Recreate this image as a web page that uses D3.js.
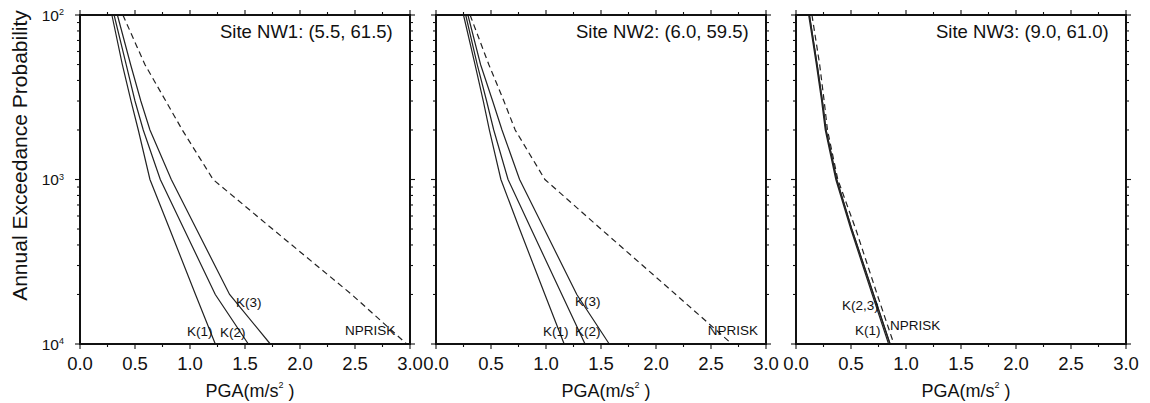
<!DOCTYPE html>
<html><head><meta charset="utf-8">
<script src="https://cdn.jsdelivr.net/npm/d3@7"></script>
<style>
body{margin:0;background:#fff}
svg{display:block}
text{font-family:"Liberation Sans",Arial,Helvetica,sans-serif;fill:#111}
</style>
</head><body><svg id="c" width="1150" height="403"></svg>
<script>
// ---------- data ----------
const siteTitles = ["Site NW1: (5.5, 61.5)", "Site NW2: (6.0, 59.5)", "Site NW3: (9.0, 61.0)"];
const probLevels = [0.01, 0.005, 0.003, 0.002, 0.001, 0.0005, 0.0002, 0.0001];

// PGA (m/s^2) at each probability level
const nw1K1     = [0.29, 0.385, 0.464, 0.53, 0.636, 0.815, 1.05, 1.23];
const nw1K2     = [0.31, 0.42, 0.50, 0.575, 0.73, 0.945, 1.23, 1.53];
const nw1K3     = [0.34, 0.46, 0.553, 0.636, 0.83, 1.058, 1.36, 1.73];
const nw1Nprisk = [0.39, 0.59, 0.78, 0.93, 1.21, 1.75, 2.47, 2.97];

const nw2K1     = [0.25, 0.355, 0.43, 0.485, 0.59, 0.76, 0.99, 1.165];
const nw2K2     = [0.27, 0.375, 0.46, 0.525, 0.655, 0.865, 1.144, 1.355];
const nw2K3     = [0.29, 0.405, 0.515, 0.60, 0.76, 0.984, 1.28, 1.575];
const nw2Nprisk = [0.31, 0.48, 0.617, 0.72, 0.99, 1.50, 2.18, 2.69];

const nw3K1     = [0.115, 0.185, 0.233, 0.266, 0.362, 0.498, 0.693, 0.842];
const nw3K2     = [0.122, 0.192, 0.24, 0.273, 0.37, 0.507, 0.705, 0.855];
const nw3K3     = [0.122, 0.192, 0.24, 0.273, 0.37, 0.507, 0.705, 0.855];
const nw3Nprisk = [0.145, 0.215, 0.256, 0.286, 0.38, 0.543, 0.738, 0.89];

const xTickValues = [0, 0.5, 1, 1.5, 2, 2.5, 3];
const xTickLabels = ["0.0", "0.5", "1.0", "1.5", "2.0", "2.5", "3.0"];
const yDecades = [1e-2, 1e-3, 1e-4];
const yExpLabels = ["2", "3", "4"];

// curve labels: text, PGA position, probability position
const nw1Labels = [["K(1)", 0.973, 1.12e-4], ["K(2)", 1.273, 1.1e-4], ["K(3)", 1.418, 1.68e-4], ["NPRISK", 2.41, 1.13e-4]];
const nw2Labels = [["K(1)", 0.973, 1.12e-4], ["K(2)", 1.264, 1.12e-4], ["K(3)", 1.264, 1.71e-4], ["NPRISK", 2.47, 1.13e-4]];
const nw3Labels = [["K(2,3)", 0.418, 1.61e-4], ["K(1)", 0.536, 1.13e-4], ["NPRISK", 0.855, 1.22e-4]];

// ---------- build ----------
const panels = [
  {title: siteTitles[0], solid: [nw1K1, nw1K2, nw1K3], dashed: nw1Nprisk, labels: nw1Labels},
  {title: siteTitles[1], solid: [nw2K1, nw2K2, nw2K3], dashed: nw2Nprisk, labels: nw2Labels},
  {title: siteTitles[2], solid: [nw3K1, nw3K2, nw3K3], dashed: nw3Nprisk, labels: nw3Labels}
];
const panelLefts = [80, 436, 796];
const pw = 330, yTop = 15, yBot = 344;

const svg = d3.select("#c");
const y = d3.scaleLog().domain([1e-2, 1e-4]).range([yTop, yBot]);

svg.append("text")
  .attr("transform", `translate(27,${(yTop+yBot)/2 - 24}) rotate(-90)`)
  .attr("text-anchor", "middle")
  .style("font-size", "21px")
  .text("Annual Exceedance Probability");

const minorY = [];
for (let d = -2; d > -4; d--) for (let m = 2; m <= 9; m++) minorY.push(m * Math.pow(10, d - 1));

panels.forEach((P, i) => {
  const x0 = panelLefts[i];
  const x = d3.scaleLinear().domain([0, 3]).range([x0, x0 + pw]);
  const g = svg.append("g");

  const xMinor = d3.range(0.25, 3, 0.5);
  const tickG = g.append("g").attr("stroke", "#111").attr("stroke-width", 1.1);
  xTickValues.forEach(v => {
    tickG.append("line").attr("x1", x(v)).attr("x2", x(v)).attr("y1", yBot).attr("y2", yBot + 5);
    tickG.append("line").attr("x1", x(v)).attr("x2", x(v)).attr("y1", yTop).attr("y2", yTop - 5);
  });
  xMinor.forEach(v => {
    tickG.append("line").attr("x1", x(v)).attr("x2", x(v)).attr("y1", yBot).attr("y2", yBot + 3);
    tickG.append("line").attr("x1", x(v)).attr("x2", x(v)).attr("y1", yTop).attr("y2", yTop - 3);
  });
  yDecades.forEach(v => {
    tickG.append("line").attr("x1", x0).attr("x2", x0 - 5).attr("y1", y(v)).attr("y2", y(v));
    tickG.append("line").attr("x1", x0 + pw).attr("x2", x0 + pw + 5).attr("y1", y(v)).attr("y2", y(v));
  });
  minorY.forEach(v => {
    tickG.append("line").attr("x1", x0).attr("x2", x0 - 3).attr("y1", y(v)).attr("y2", y(v));
    tickG.append("line").attr("x1", x0 + pw).attr("x2", x0 + pw + 3).attr("y1", y(v)).attr("y2", y(v));
  });

  xTickValues.forEach((v, k) => {
    g.append("text").attr("x", x(v)).attr("y", 370).attr("text-anchor", "middle")
      .style("font-size", "18.5px").text(xTickLabels[k]);
  });
  const xt = g.append("text").attr("x", x0 + pw / 2 + 5).attr("y", 397).attr("text-anchor", "middle")
    .style("font-size", "18px");
  xt.append("tspan").text("PGA(m/s");
  xt.append("tspan").attr("dy", -9).style("font-size", "9px").text("2");
  xt.append("tspan").attr("dy", 9).text("\u00a0)");

  if (i === 0) {
    yDecades.forEach((v, k) => {
      const t = g.append("text").attr("x", 64).attr("y", y(v) + 5.5).attr("text-anchor", "end")
        .style("font-size", "15.5px");
      t.append("tspan").text("10");
      t.append("tspan").attr("dy", -5.5).style("font-size", "9px").text(yExpLabels[k]);
    });
  }

  const line = d3.line().x(d => x(d[0])).y(d => y(d[1]));
  P.solid.forEach(s => {
    g.append("path").datum(s.map((v, k) => [v, probLevels[k]]))
      .attr("d", line).attr("fill", "none").attr("stroke", "#222").attr("stroke-width", 1.2);
  });
  g.append("path").datum(P.dashed.map((v, k) => [v, probLevels[k]]))
    .attr("d", line).attr("fill", "none").attr("stroke", "#222").attr("stroke-width", 1.2)
    .attr("stroke-dasharray", "6,4");

  g.append("rect").attr("x", x0).attr("y", yTop).attr("width", pw).attr("height", yBot - yTop)
    .attr("fill", "none").attr("stroke", "#111").attr("stroke-width", 2);

  g.append("text").attr("x", x0 + 140).attr("y", 38).style("font-size", "18.5px").text(P.title);

  P.labels.forEach(L => {
    g.append("text").attr("x", x(L[1])).attr("y", y(L[2])).style("font-size", "13.5px").text(L[0]);
  });
});
</script>
</body></html>
